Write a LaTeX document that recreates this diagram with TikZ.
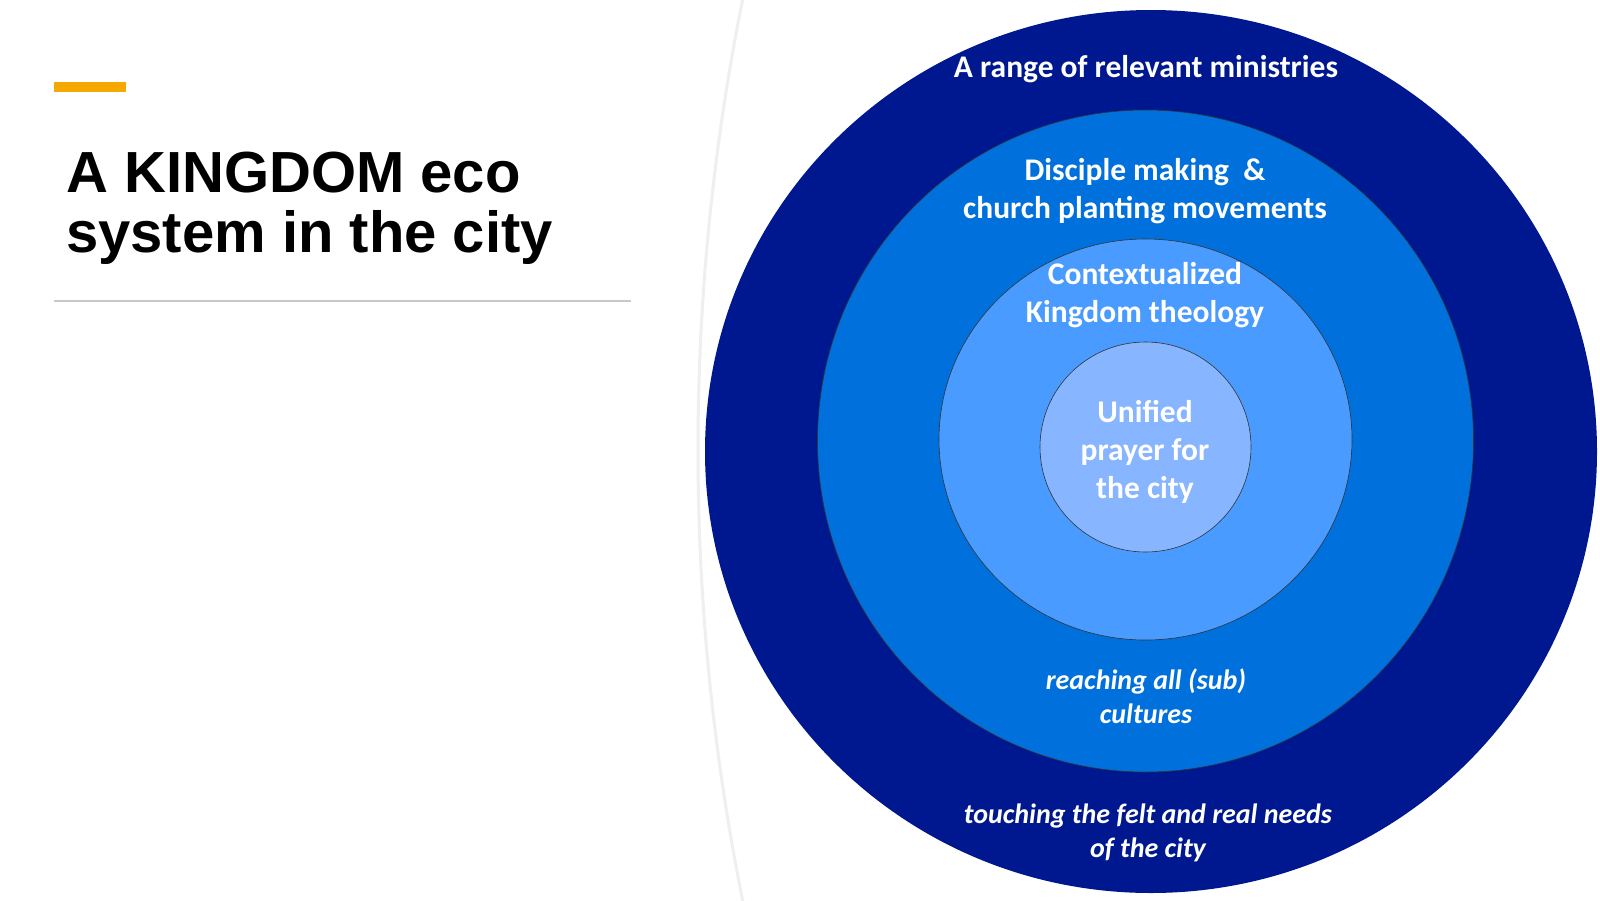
\documentclass[tikz,border=0pt]{standalone}
\usepackage{fontspec}
\setmainfont{Carlito}
\newfontfamily\headfont{Liberation Sans}
\usepackage{tikz}
\definecolor{navy}{HTML}{00188F}
\definecolor{midblue}{HTML}{0070DD}
\definecolor{skyblue}{HTML}{4A9BFF}
\definecolor{paleblue}{HTML}{87B5FF}
\definecolor{accent}{HTML}{F5A800}
\definecolor{rulegray}{HTML}{C8C8C8}
\definecolor{arcgray}{HTML}{EFEFEF}

\begin{document}
\begin{tikzpicture}[x=1pt,y=-1pt,
  ring/.style={draw=black!80,line width=0.6pt},
  ringlabel/.style={text=white,align=center,anchor=base,inner sep=0pt,
               font=\fontsize{31.5}{38}\selectfont\bfseries},
  ringnote/.style={text=white,align=center,anchor=base,inner sep=0pt,
               font=\fontsize{28}{34}\selectfont\bfseries\itshape}
]
\useasboundingbox[fill=white] (0,0) rectangle (1600,900);
\begin{scope}
\clip (0,0) rectangle (1600,900);
\draw[arcgray,line width=3pt] (2970,450) circle[radius=2272];
\end{scope}
\fill[accent] (54,82) rectangle (126,92);
\node[anchor=base west,inner sep=0pt,align=left,
      font=\fontsize{58}{60}\selectfont\headfont\bfseries] (title) at (66,252)
      {A KINGDOM eco\\system in the city};
\draw[rulegray,line width=2pt] (54,301) -- (631,301);
\fill[navy] (1151,451.5) ellipse[x radius=446,y radius=441.5];
\draw[ring,fill=midblue] (1145.5,441) ellipse[x radius=328,y radius=331];
\draw[ring,fill=skyblue] (1145.5,439.5) ellipse[x radius=206.5,y radius=200.5];
\draw[ring,fill=paleblue] (1145.5,447) ellipse[x radius=105.5,y radius=105];
\node[ringlabel] (ministries) at (1146,77) {A range of relevant ministries};
\node[ringlabel] (disciple) at (1145,218) {Disciple making\ \ \&\\church planting movements};
\node[ringlabel] (theology) at (1145,322) {Contextualized\\Kingdom theology};
\node[ringlabel] (prayer) at (1145,498) {Unified\\prayer for\\the city};
\node[ringnote] (cultures) at (1146,723) {reaching all (sub)\\cultures};
\node[ringnote] (needs) at (1148,857) {touching the felt and real needs\\of the city};
\end{tikzpicture}
\end{document}
